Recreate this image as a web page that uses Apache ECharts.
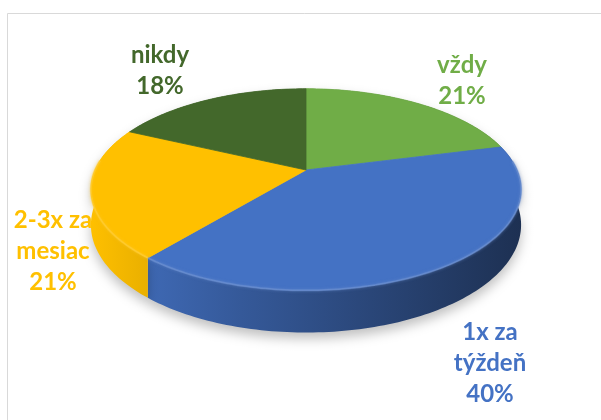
<!DOCTYPE html>
<html>
<head>
<meta charset="utf-8">
<script src="https://cdn.jsdelivr.net/npm/echarts@6/dist/echarts.min.js"></script>
<style>
  html, body { margin: 0; padding: 0; background: #fff; }
  #chart { width: 601px; height: 420px; }
</style>
</head>
<body>
<div id="chart"></div>
<script>
// data
const categories = ['vždy', '1x za týždeň', '2-3x za mesiac', 'nikdy'];
const values = [21, 40, 21, 18];
const colors = ['#70AD47', '#4472C4', '#FFC000', '#43682B'];

// tilted disc layout (screen px)
const cx = 306, cy = 170, rx = 211, ry = 97, persp = 0.194, depth = 34;
// centres of the label blocks
const labelAt = [[462, 81], [490, 363], [53, 251], [160, 71]];

const total = values.reduce((a, b) => a + b, 0);
const starts = [];
let acc = 0;
values.forEach(v => { starts.push(acc / total * Math.PI * 2); acc += v; });

// angle clockwise from the back of the disc -> screen point
function proj(phi, drop) {
  const x = Math.sin(phi), z = -Math.cos(phi);
  const s = 1 / (1 - persp * z);
  return [cx + rx * x * s, cy + (ry * z + depth * drop) * s];
}

function mix(hex, k, to) {
  const n = parseInt(hex.slice(1), 16);
  const c = [n >> 16, (n >> 8) & 255, n & 255].map(v => Math.round(v + (to - v) * (1 - k)));
  return 'rgb(' + c.join(',') + ')';
}

function renderItem(params, api) {
  const i = params.dataIndex;
  const a0 = starts[i];
  const a1 = a0 + api.value(0) / total * Math.PI * 2;
  const n = Math.max(8, Math.ceil((a1 - a0) / 0.02));
  const top = [], bot = [], rim = [];
  for (let k = 0; k <= n; k++) {
    const a = a0 + (a1 - a0) * k / n;
    const p = proj(a, 0);
    top.push(p);
    bot.push(proj(a, 1));
    if (-Math.cos(a) > -0.1) rim.push(p);
  }
  const col = colors[i];
  const children = [
    {
      type: 'polygon', z2: 1,
      shape: { points: top.concat(bot.slice().reverse()) },
      style: {
        fill: {
          type: 'linear', x: cx - rx - 6, y: 0, x2: cx + rx + 6, y2: 0, global: true,
          colorStops: [
            { offset: 0, color: mix(col, 1.0, 0) },
            { offset: 0.35, color: mix(col, 0.78, 0) },
            { offset: 1, color: mix(col, 0.42, 0) }
          ]
        },
        shadowBlur: 12, shadowOffsetY: 6, shadowColor: 'rgba(0,0,0,0.25)'
      }
    },
    {
      type: 'polygon', z2: 3,
      shape: { points: [[cx, cy]].concat(top) },
      style: { fill: col, stroke: col, lineWidth: 0.8 }
    }
  ];
  if (rim.length > 1) {
    children.push({
      type: 'polyline', z2: 4,
      shape: { points: rim },
      style: {
        stroke: mix(col, 0.75, 255), lineWidth: 2, fill: null, opacity: 0.5,
        shadowBlur: 3, shadowColor: mix(col, 0.8, 255)
      }
    });
  }
  const pct = Math.round(api.value(0) / total * 100);
  children.push({
    type: 'text', z2: 10,
    x: labelAt[i][0], y: labelAt[i][1],
    style: {
      text: categories[i].replace(' za ', ' za\n') + '\n' + pct + '%',
      fill: col,
      fontFamily: 'Lato',
      fontWeight: 'bold',
      fontSize: 24,
      lineHeight: 31,
      align: 'center',
      verticalAlign: 'middle'
    }
  });
  return { type: 'group', children: children };
}

const chart = echarts.init(document.getElementById('chart'));
chart.setOption({
  animation: false,
  backgroundColor: '#fff',
  graphic: [{
    type: 'rect', z: -1,
    shape: { x: 7.5, y: 13.5, width: 700, height: 500 },
    style: { fill: null, stroke: '#D9D9D9', lineWidth: 1 }
  }],
  series: [{
    type: 'custom',
    coordinateSystem: 'none',
    renderItem: renderItem,
    data: values.map((v, i) => ({ name: categories[i], value: [v] }))
  }]
});
</script>
</body>
</html>
